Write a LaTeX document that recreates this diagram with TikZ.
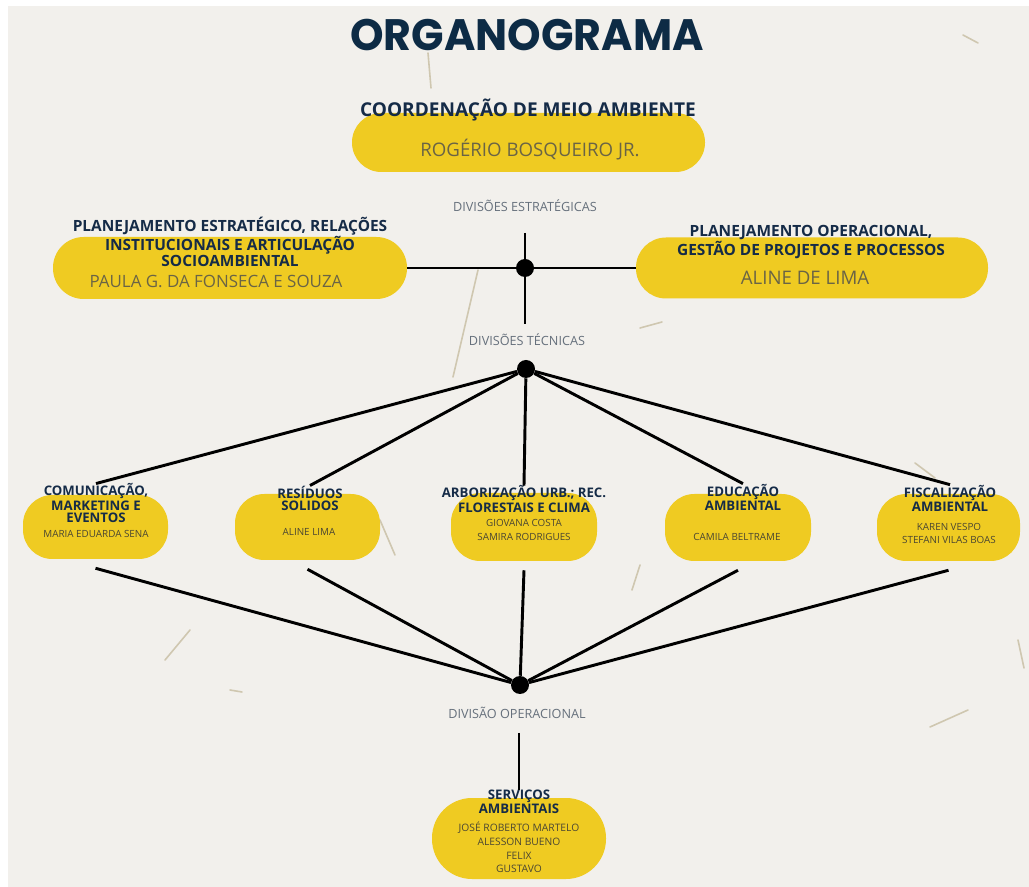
\documentclass[tikz,border=0pt]{standalone}
\usepackage{fontspec}
\setmainfont{Open Sans}
\newfontfamily\titlefont{Poppins}
\usetikzlibrary{calc}
\definecolor{paper}{HTML}{F2F0EC}
\definecolor{boxyellow}{HTML}{EFCB22}
\definecolor{navy}{HTML}{152B47}
\definecolor{titlenavy}{HTML}{0D2B45}
\definecolor{namegray}{HTML}{6A6445}
\definecolor{smallgray}{HTML}{4A4632}
\definecolor{labelgray}{HTML}{66707C}
\definecolor{fiber}{HTML}{CFC7B0}
\begin{document}
\begin{tikzpicture}[x=0.75pt,y=-0.75pt,
  pill/.style={fill=boxyellow, draw=none, rounded corners=22pt, inner sep=0},
  head/.style={text=navy, font=\bfseries\fontsize{9.9}{9}\selectfont, align=center, inner sep=0},
  bighead/.style={head, font=\bfseries\fontsize{14.3}{15}\selectfont},
  midhead/.style={head, font=\bfseries\fontsize{11.6}{10.9}\selectfont},
  bigname/.style={text=namegray, font=\fontsize{14}{16}\selectfont, inner sep=0},
  smallname/.style={text=smallgray, font=\fontsize{7.4}{10.3}\selectfont, align=center, inner sep=0},
  divlabel/.style={text=labelgray, font=\fontsize{9.5}{10}\selectfont, inner sep=0},
  dot/.style={circle, fill=black, minimum size=13.5pt, inner sep=0},
  conn/.style={line width=2.2pt, black},
  fib/.style={fiber, line width=1.2pt, line cap=round}]
\useasboundingbox (0,0) rectangle (1029,887);
\fill[white] (0,0) rectangle (1029,887);
\fill[paper] (8,6) rectangle (1029,887);
% paper fibres
\draw[fib] (428,53) -- (431,88);
\draw[fib] (478,270) -- (453,377);
\draw[fib] (640,328) -- (662,322);
\draw[fib] (963,35) -- (978,43);
\draw[fib] (165,660) -- (190,630);
\draw[fib] (930,727) -- (968,710);
\draw[fib] (915,463) -- (935,478);
\draw[fib] (1018,640) -- (1024,668);
\draw[fib] (380,520) -- (395,555);
\draw[fib] (640,565) -- (632,590);
\draw[fib] (230,690) -- (242,692);

% title
\node (title) at (527,35) {\titlefont\bfseries\fontsize{33}{38}\selectfont\color{titlenavy}\scalebox{0.97}[1]{ORGANOGRAMA}};

% boxes
\node[pill, minimum width=264.75pt, minimum height=44.25pt] (bTop) at (528.5,142.5) {};
\node[pill, minimum width=265.5pt, minimum height=46.5pt, rounded corners=23pt] (bL) at (230,268) {};
\node[pill, minimum width=264pt, minimum height=45.75pt, rounded corners=22.5pt] (bR) at (812,268) {};
\node[pill, minimum width=108.75pt, minimum height=48pt] (bComm) at (95.5,527) {};
\node[pill, minimum width=108.75pt, minimum height=49.5pt] (bRes) at (307.5,527) {};
\node[pill, minimum width=109.5pt, minimum height=51pt] (bArb) at (524,527) {};
\node[pill, minimum width=109.5pt, minimum height=50.25pt] (bEdu) at (738,527.5) {};
\node[pill, minimum width=107.25pt, minimum height=50.25pt] (bFis) at (948.5,527.5) {};
\node[pill, minimum width=130.5pt, minimum height=60.75pt, rounded corners=30pt] (bServ) at (519,838.5) {};

% dots and free ends
\node[dot] (sdot) at (525,268) {};
\node[dot] (tdot) at (526,369) {};
\node[dot] (odot) at (520,685) {};
\coordinate (sTop) at (525,233);
\coordinate (sBot) at (525,324);
\coordinate (oTop) at (519,733);

% labels
\node[divlabel] (dStrat) at (525,206) {DIVISÕES ESTRATÉGICAS};
\node[divlabel] (dTec) at (527,340) {DIVISÕES TÉCNICAS};
\node[divlabel] (dOp) at (517,713) {DIVISÃO OPERACIONAL};

% headings and names
\node[bighead] (hTop) at (528,110) {COORDENAÇÃO DE MEIO AMBIENTE};
\node[bigname] (nTop) at (530,150) {ROGÉRIO BOSQUEIRO JR.};
\node[midhead] (hL) at (230,242) {PLANEJAMENTO ESTRATÉGICO, RELAÇÕES\\INSTITUCIONAIS E ARTICULAÇÃO\\SOCIOAMBIENTAL};
\node[bigname, font=\fontsize{12.7}{15}\selectfont] (nL) at (216,281) {PAULA G. DA FONSECA E SOUZA};
\node[midhead] (hR) at (811,242) {PLANEJAMENTO OPERACIONAL,\\GESTÃO DE PROJETOS E PROCESSOS};
\node[bigname] (nR) at (805,278) {ALINE DE LIMA};

\node[head] (hComm) at (96,503) {COMUNICAÇÃO,\\MARKETING E\\EVENTOS};
\node[smallname] (nComm) at (96,534) {MARIA EDUARDA SENA};
\node[head] (hRes) at (310,498) {RESÍDUOS\\SOLIDOS};
\node[smallname] (nRes) at (309,532) {ALINE LIMA};
\node[head] (hArb) at (524,499) {ARBORIZAÇÃO URB.; REC.\\FLORESTAIS E CLIMA};
\node[smallname] (nArb) at (524,530) {GIOVANA COSTA\\SAMIRA RODRIGUES};
\node[head] (hEdu) at (743,497) {EDUCAÇÃO\\AMBIENTAL};
\node[smallname] (nEdu) at (737,537) {CAMILA BELTRAME};
\node[head] (hFis) at (950,498) {FISCALIZAÇÃO\\AMBIENTAL};
\node[smallname] (nFis) at (949,533.5) {KAREN VESPO\\STEFANI VILAS BOAS};
\node[head] (hServ) at (519,802) {SERVIÇOS\\AMBIENTAIS};
\node[smallname, font=\fontsize{7.7}{10.3}\selectfont] (nServ) at (519,847.5) {JOSÉ ROBERTO MARTELO\\ALESSON BUENO\\FELIX\\GUSTAVO};

% connectors
\draw[conn] (sTop) -- (sdot) -- (sBot);
\draw[conn] (bL.east) -- (sdot) -- (bR.west);
\foreach \h in {hComm,hRes,hArb,hEdu,hFis}
  \draw[conn] (tdot) -- (\h.north);
\foreach \b in {bComm,bRes,bArb,bEdu,bFis}
  \draw[conn] ($(\b.south)+(0,9)$) -- (odot);
\draw[conn] (oTop) -- (hServ.north);
\end{tikzpicture}
\end{document}
